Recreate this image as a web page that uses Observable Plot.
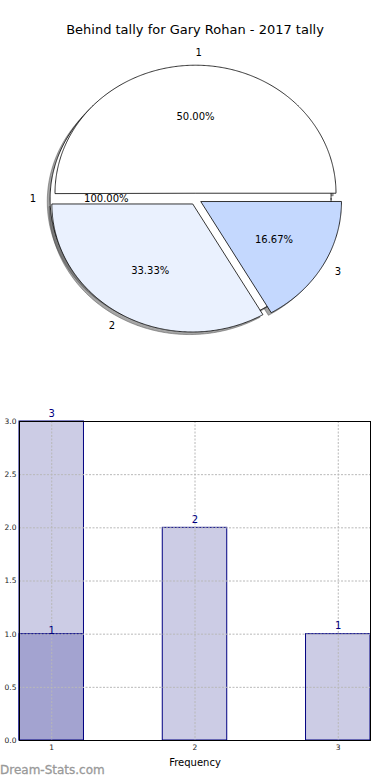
<!DOCTYPE html>
<html><head><meta charset="utf-8">
<script src="https://cdn.jsdelivr.net/npm/d3@7"></script>
<script src="https://cdn.jsdelivr.net/npm/@observablehq/plot@0.6"></script>
<style>
body{margin:0;background:#fff;font-family:"DejaVu Sans",sans-serif;}
#wrap{position:relative;width:390px;height:780px;overflow:hidden;background:#fff;}
#title{position:absolute;top:22px;left:0;width:390px;text-align:center;font-size:13px;color:#000;line-height:16px;}
#pie{position:absolute;top:45px;left:0;}
#bar{position:absolute;top:385px;left:0;}
#mark{position:absolute;left:0;top:762px;font-size:12px;color:#999;line-height:16px;-webkit-text-stroke:0.3px #999;}
svg{font-family:"DejaVu Sans",sans-serif;}
</style></head><body>
<div id="wrap">
<div id="title">Behind tally for Gary Rohan - 2017 tally</div>
<div id="pie"></div>
<div id="bar"></div>
<div id="mark">Dream-Stats.com</div>
</div>
<script>
// ---- data ----
const pieLabels = ["1", "2", "3"];
const pieCounts = [3, 2, 1];
const fullPieLabels = ["1"];
const fullPieCounts = [1];
const barCategories = [1, 2, 3];
const barValues = [3, 2, 1];
const overlayCategories = [1];
const overlayValues = [1];
const yTicks = [0, 0.5, 1, 1.5, 2, 2.5, 3];
const xTicks = [1, 2, 3];
const xLabel = "Frequency";

// ---- style ----
const pieColors = ["#ffffff", "#eaf1fe", "#c4d8fe"];
const fullPieColors = ["#ffffff"];

function wedges(group, labels, counts, colors, explode) {
  const total = d3.sum(counts);
  let a = 0;
  return labels.map((label, i) => {
    const frac = counts[i] / total;
    const a0 = a, a1 = a + frac * 360;
    a = a1;
    const mid = (a0 + a1) / 2 * Math.PI / 180;
    const cx = explode * Math.cos(mid), cy = explode * Math.sin(mid);
    const full = frac > 0.9999;
    const pts = [];
    if (!full) pts.push([cx, cy]);
    const n = Math.max(4, Math.ceil(a1 - a0) * 2);
    for (let k = 0; k <= n; k++) {
      const t = (a0 + (a1 - a0) * k / n) * Math.PI / 180;
      pts.push([cx + Math.cos(t), cy + Math.sin(t)]);
    }
    return {id: group + i, label, frac, cx, cy, mid, pts, color: colors[i]};
  });
}

const fullW = wedges("f", fullPieLabels, fullPieCounts, fullPieColors, 0.035);
const mainW = wedges("m", pieLabels, pieCounts, pieColors, 0.045);

const toRows = (ws, dx = 0, dy = 0) => ws.flatMap(w => w.pts.map(([x, y]) => ({id: w.id, x: x + dx, y: y + dy, color: w.color})));
const shadowRows = toRows([...fullW, ...mainW], -0.02, -0.02);

const labelRows = [...fullW, ...mainW].map(w => ({
  x: w.cx + 1.1 * Math.cos(w.mid), y: w.cy + 1.1 * Math.sin(w.mid), text: w.label
}));
const pctRows = [...fullW, ...mainW].map(w => ({
  x: w.cx + 0.6 * Math.cos(w.mid), y: w.cy + 0.6 * Math.sin(w.mid), text: (w.frac * 100).toFixed(2) + "%"
}));

const pie = Plot.plot({
  width: 390, height: 340,
  marginTop: 0, marginBottom: 0, marginLeft: 0, marginRight: 0,
  x: {domain: [-1.388, 1.388], axis: null},
  y: {domain: [-1.457, 1.199], axis: null},
  color: {type: "identity"},
  marks: [
    Plot.line(shadowRows, {x: "x", y: "y", z: "id", fill: "#4d4d4d", fillOpacity: 0.5, stroke: "#4d4d4d", strokeOpacity: 0.5, strokeWidth: 1, curve: "linear-closed"}),
    Plot.line(toRows(fullW), {x: "x", y: "y", z: "id", fill: "color", stroke: "#000", strokeWidth: 0.8, curve: "linear-closed"}),
    Plot.line(toRows(mainW), {x: "x", y: "y", z: "id", fill: "color", stroke: "#000", strokeWidth: 0.8, curve: "linear-closed"}),
    Plot.text(labelRows.filter(d => d.x >= 0), {x: "x", y: "y", text: "text", textAnchor: "start", fontSize: 10, fill: "#000"}),
    Plot.text(labelRows.filter(d => d.x < 0), {x: "x", y: "y", text: "text", textAnchor: "end", fontSize: 10, fill: "#000"}),
    Plot.text(pctRows, {x: "x", y: "y", text: "text", textAnchor: "middle", fontSize: 10, fill: "#000"})
  ]
});
document.getElementById("pie").appendChild(pie);

const barRows = barCategories.map((c, i) => ({cat: c, value: barValues[i]}));
const overlayRows = overlayCategories.map((c, i) => ({cat: c, value: overlayValues[i]}));
const halfW = 0.225;

const bar = Plot.plot({
  width: 390, height: 395,
  marginTop: 36, marginBottom: 40, marginLeft: 19, marginRight: 20,
  x: {domain: [0.775, 3.225], axis: null},
  y: {domain: [0, 3], axis: null},
  marks: [
    Plot.rectY(barRows, {x1: d => d.cat - halfW, x2: d => d.cat + halfW, y1: 0, y2: "value", fill: "#cccce5", stroke: "#000080", strokeWidth: 1}),
    Plot.rectY(overlayRows, {x1: d => d.cat - halfW, x2: d => d.cat + halfW, y1: 0, y2: "value", fill: "#a3a3d0", stroke: "#000080", strokeWidth: 1}),
    Plot.ruleY(yTicks.filter(v => v > 0 && v < 3), {y: d => d, stroke: "#b8b8b8", strokeWidth: 1, strokeDasharray: "2,1.5"}),
    Plot.ruleX(xTicks, {x: d => d, stroke: "#b8b8b8", strokeWidth: 1, strokeDasharray: "2,1.5"}),
    Plot.frame({stroke: "#000", strokeWidth: 1}),
    Plot.axisY(yTicks, {anchor: "left", tickSize: 0, tickPadding: 3, tickFormat: d3.format(".1f"), fontSize: 7.5, label: null, fill: "#222"}),
    Plot.axisX(xTicks, {anchor: "bottom", tickSize: 0, tickPadding: 4, tickFormat: d => String(d), fontSize: 7.5, label: null, fill: "#222"}),
    Plot.text(barRows, {x: "cat", y: "value", text: d => String(d.value), dy: -8, fill: "#000080", fontSize: 10}),
    Plot.text(overlayRows, {x: "cat", y: "value", text: d => String(d.value), dy: -3, fill: "#000080", fontSize: 10}),
    Plot.text([xLabel], {frameAnchor: "bottom", text: d => d, dy: 25, fontSize: 10, fill: "#000"})
  ]
});
document.getElementById("bar").appendChild(bar);
</script>
</body></html>
